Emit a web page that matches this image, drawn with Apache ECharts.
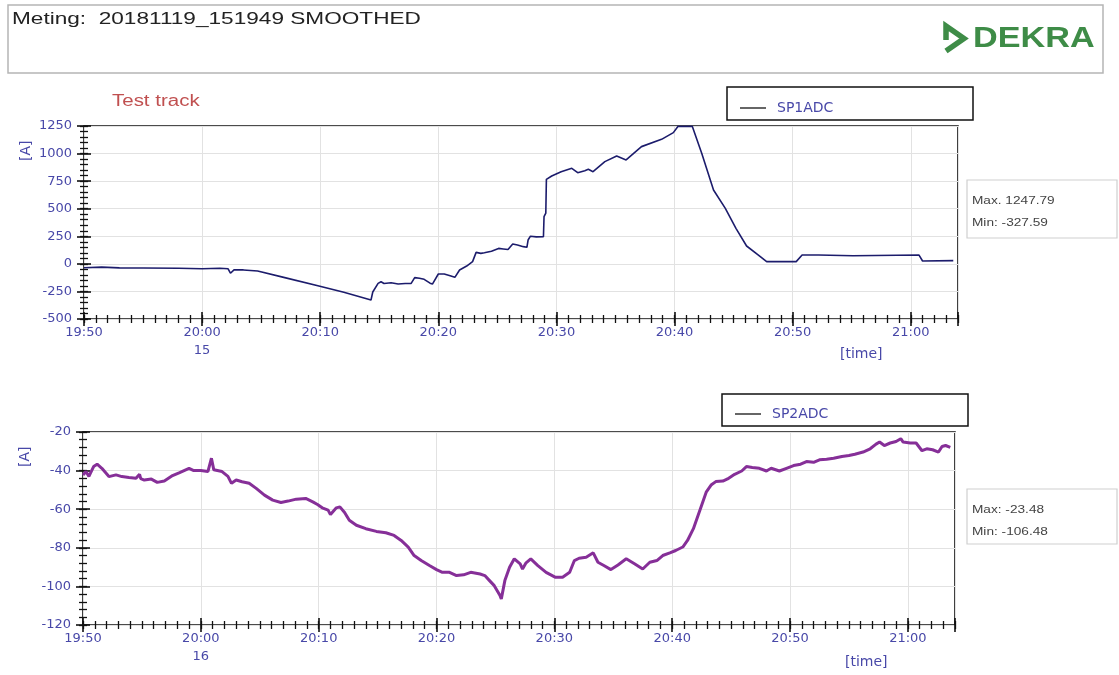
<!DOCTYPE html>
<html><head><meta charset="utf-8">
<script src="https://cdn.jsdelivr.net/npm/echarts/dist/echarts.min.js"></script>
<style>html,body{margin:0;padding:0;background:#fff}#c{width:1119px;height:675px}</style>
</head><body><div id="c"></div>
<script>
// time base: minutes after 19:50
const START_MIN = 19 * 60 + 50;
const X_END_MIN = 74;

// SP1ADC [A]
const sp1Minutes = [0, 1.5, 3, 5, 8, 10, 11.5, 12.2, 12.4, 12.7, 13.5, 14.7, 17, 19.8, 22, 24.3,
  24.45, 24.6, 24.9, 25.15, 25.4, 26.0, 26.6, 27.2, 27.7, 28.0, 28.4, 28.8, 29.3, 29.5, 30.0, 30.5,
  31.0, 31.4, 31.8, 32.4, 32.9, 33.2, 33.6, 33.9, 34.5, 35.1, 35.5, 35.9, 36.3, 36.7, 37.2, 37.5,
  37.6, 37.8, 38.3, 38.9, 38.95, 39.1, 39.15, 39.6, 40.4, 41.3, 41.8, 42.4, 42.7, 43.1, 44.1, 45.1,
  45.9, 47.2, 48.9, 49.9, 50.3, 51.5, 52.3, 53.3, 54.3, 55.2, 56.1, 57.1, 57.8, 60.3, 60.8, 62.2,
  65.1, 70.7, 71.0, 73.6];
const sp1Values = [-35, -30, -36, -38, -40, -45, -40, -45, -85, -55, -55, -65, -125, -198, -258, -327.59,
  -255, -240, -177, -162, -178, -172, -183, -178, -177, -125, -130, -140, -175, -183, -92, -92,
  -108, -122, -56, -20, 20, 104, 95, 100, 115, 140, 135, 130, 180, 171, 156, 150,
  216, 251, 245, 246, 428, 460, 766, 797, 836, 866, 827, 845, 857, 836, 927, 978,
  942, 1063, 1129, 1190, 1247.79, 1247, 1002, 670, 503, 322, 162, 80, 20, 20, 80, 80,
  74, 80, 26, 29];

// SP2ADC [A]
const sp2Minutes = [0, 0.25, 0.5, 0.9, 1.2, 1.6, 2.2, 2.8, 3.3, 3.9, 4.5, 4.8, 4.9, 5.2, 5.8, 6.3,
  6.9, 7.6, 8.2, 9.0, 9.4, 10.0, 10.6, 10.9, 11.1, 11.8, 12.3, 12.6, 13.0, 13.5, 14.1, 14.7,
  15.4, 16.1, 16.8, 17.4, 18.1, 18.9, 19.5, 19.9, 20.3, 20.8, 21.0, 21.5, 21.8, 22.2, 22.6, 23.2,
  24.0, 24.9, 25.7, 26.4, 27.0, 27.6, 28.1, 28.7, 29.4, 30.0, 30.5, 31.1, 31.7, 32.3, 32.9, 33.7,
  34.1, 34.5, 34.9, 35.4, 35.5, 35.8, 36.2, 36.6, 37.1, 37.3, 37.6, 38.0, 38.6, 39.3, 40.1, 40.7,
  41.3, 41.7, 42.1, 42.7, 43.3, 43.7, 44.2, 44.8, 45.4, 46.1, 46.8, 47.5, 48.1, 48.7, 49.2, 49.8,
  50.3, 50.9, 51.3, 51.8, 52.0, 52.5, 52.9, 53.3, 53.7, 54.3, 54.7, 55.3, 55.9, 56.3, 56.8, 57.4,
  58.0, 58.4, 59.1, 59.7, 60.3, 60.9, 61.4, 62.0, 62.5, 63.1, 63.7, 64.4, 65.0, 65.5, 66.2, 66.8,
  67.3, 67.6, 68.0, 68.5, 69.0, 69.4, 69.6, 70.2, 70.7, 71.2, 71.6, 72.1, 72.6, 72.9, 73.2, 73.6];
const sp2Values = [-42.3, -40.5, -43, -37.9, -36.7, -38.8, -43.1, -42.2, -43.1, -43.6, -44, -41.9, -44.2, -44.9, -44.4, -46.1,
  -45.4, -42.6, -41.0, -38.8, -40.0, -40.0, -40.5, -33.6, -39.6, -40.5, -43, -46.6, -44.9, -45.8, -46.6, -49.2,
  -52.7, -55.3, -56.5, -55.8, -54.8, -54.4, -56.2, -57.6, -59.3, -60.5, -62.8, -59.3, -58.8, -61.7, -65.7, -68.3,
  -70.1, -71.5, -72.2, -73.6, -76.2, -79.6, -84, -86.6, -89.2, -91.3, -92.7, -92.7, -94.4, -94.0, -92.7, -93.6,
  -94.4, -97, -99.6, -104.9, -106.48, -97, -90.1, -85.7, -88.3, -91, -87.8, -85.7, -89.2, -92.7, -95.3, -95.3,
  -92.7, -86.6, -85.4, -84.9, -82.6, -87.5, -89.2, -91.3, -88.9, -85.7, -88.3, -91, -87.5, -86.6, -84, -82.6,
  -81.4, -79.6, -76.2, -70.1, -66.6, -57.9, -51, -47.5, -45.7, -45.4, -44.3, -41.9, -40.2, -37.9, -38.4, -38.8,
  -40.2, -38.8, -40.2, -38.8, -37.4, -36.7, -35.3, -35.7, -34.4, -34.1, -33.6, -32.7, -32.2, -31.5, -30.4, -28.7,
  -26.3, -25.2, -27, -25.7, -24.9, -23.48, -25.2, -25.7, -25.7, -29.7, -28.7, -29.2, -30.4, -27.5, -27, -28];

const y1Range = [-500, 1250], y1Step = 250, y1Minor = 50;
const y2Range = [-120, -20], y2Step = 20, y2Minor = 4;
const dayTop = '15', dayBottom = '16';
const statsTop = ['Max. 1247.79', 'Min: -327.59'];
const statsBottom = ['Max: -23.48', 'Min: -106.48'];

const LBL = '#4848a8';
const AX = '#111';
const FONT = 'DejaVu Sans';

function clock(v, day) {
  const r = Math.round(v);
  if (Math.abs(v - r) > 1e-6 || r % 10 !== 0) return '';
  const h = Math.floor(r / 60), m = r % 60;
  let s = h + ':' + String(m).padStart(2, '0');
  if (r === 20 * 60) s += '\n' + day;
  return s;
}

function xAxes(grid, day) {
  const base = { gridIndex: grid, type: 'value', min: START_MIN, max: START_MIN + X_END_MIN, position: 'bottom' };
  return [
    Object.assign({}, base, {
      interval: 10, offset: -7,
      axisLine: { show: false, onZero: false },
      axisTick: { show: true, inside: false, length: 14, lineStyle: { color: AX, width: 1.6 } },
      splitLine: { show: true, lineStyle: { color: '#e2e2e2', width: 1 } },
      axisLabel: { show: true, margin: 12, color: LBL, fontFamily: FONT, fontSize: 13, lineHeight: 18,
        formatter: v => clock(v, day) }
    }),
    Object.assign({}, base, {
      interval: 1, offset: -4,
      axisLine: { show: false, onZero: false },
      axisTick: { show: true, inside: false, length: 8, lineStyle: { color: AX, width: 1.3 } },
      splitLine: { show: false }, axisLabel: { show: false }
    })
  ];
}
function yAxes(grid, range, step, minor) {
  const base = { gridIndex: grid, type: 'value', min: range[0], max: range[1], position: 'left' };
  return [
    Object.assign({}, base, {
      interval: step, offset: -7,
      axisLine: { show: false, onZero: false },
      axisTick: { show: true, inside: false, length: 14, lineStyle: { color: AX, width: 1.6 } },
      splitLine: { show: true, lineStyle: { color: '#e2e2e2', width: 1 } },
      axisLabel: { show: true, margin: 19, color: LBL, fontFamily: FONT, fontSize: 13, formatter: v => String(v) }
    }),
    Object.assign({}, base, {
      interval: minor, offset: -4,
      axisLine: { show: false, onZero: false },
      axisTick: { show: true, inside: false, length: 8, lineStyle: { color: AX, width: 1.3 } },
      splitLine: { show: false }, axisLabel: { show: false }
    })
  ];
}

function txt(x, y, text, opts) {
  return Object.assign({ type: 'text', x: x, y: y, style: Object.assign({ text: text, fontFamily: 'Liberation Sans', fontSize: 13, fill: '#333' }, opts.style || {}) }, opts.el || {});
}

const chart = echarts.init(document.getElementById('c'), null, { renderer: 'canvas' });
chart.setOption({
  animation: false,
  backgroundColor: '#fff',
  grid: [
    { left: 84, top: 126, width: 874, height: 193, show: true, borderColor: '#111', borderWidth: 1.6, backgroundColor: 'transparent' },
    { left: 83, top: 432, width: 872, height: 193, show: true, borderColor: '#111', borderWidth: 1.6, backgroundColor: 'transparent' }
  ],
  xAxis: xAxes(0, dayTop).concat(xAxes(1, dayBottom)),
  yAxis: yAxes(0, y1Range, y1Step, y1Minor).concat(yAxes(1, y2Range, y2Step, y2Minor)),
  legend: [
    { data: [{ name: 'SP1ADC', itemStyle: { color: '#333' } }], left: 735, top: 96, icon: 'rect', itemWidth: 26, itemHeight: 1.5,
      textStyle: { color: LBL, fontFamily: FONT, fontSize: 14, padding: [0, 0, 0, 6] }, selectedMode: false },
    { data: [{ name: 'SP2ADC', itemStyle: { color: '#333' } }], left: 730, top: 402, icon: 'rect', itemWidth: 26, itemHeight: 1.5,
      textStyle: { color: LBL, fontFamily: FONT, fontSize: 14, padding: [0, 0, 0, 6] }, selectedMode: false }
  ],
  series: [
    { name: 'SP1ADC', type: 'line', xAxisIndex: 0, yAxisIndex: 0, symbol: 'none',
      lineStyle: { color: '#1c1c6c', width: 1.6 }, itemStyle: { color: '#1c1c6c' },
      data: sp1Minutes.map((m, i) => [START_MIN + m, sp1Values[i]]) },
    { name: 'SP2ADC', type: 'line', xAxisIndex: 2, yAxisIndex: 2, symbol: 'none',
      lineStyle: { color: '#862f98', width: 3 }, itemStyle: { color: '#862f98' },
      data: sp2Minutes.map((m, i) => [START_MIN + m, sp2Values[i]]) }
  ],
  graphic: [
    { type: 'rect', shape: { x: 8, y: 5, width: 1095, height: 68 }, style: { fill: 'none', stroke: '#b5b5b5', lineWidth: 1.5 } },
    txt(12, 11, 'Meting:  20181119_151949 SMOOTHED', { style: { fontSize: 17, fill: '#222' }, el: { scaleX: 1.33 } }),
    { type: 'polyline', shape: { points: [[946, 40], [946, 26], [964, 38.5], [946, 51]] },
      style: { stroke: '#3e8c47', lineWidth: 5.5, fill: 'none', lineJoin: 'miter' } },
    txt(973, 24, 'DEKRA', { style: { fontSize: 29, fontWeight: 'bold', fill: '#3e8c47' }, el: { scaleX: 1.18 } }),
    txt(112, 94, 'Test track', { style: { fontSize: 16, fill: '#c05050' }, el: { scaleX: 1.28 } }),
    { type: 'rect', shape: { x: 727, y: 87, width: 246, height: 33 }, style: { fill: 'none', stroke: '#111', lineWidth: 1.5 } },
    { type: 'rect', shape: { x: 722, y: 394, width: 246, height: 32 }, style: { fill: 'none', stroke: '#111', lineWidth: 1.5 } },
    { type: 'rect', shape: { x: 967, y: 180, width: 150, height: 58 }, style: { fill: 'none', stroke: '#cfcfcf', lineWidth: 1.2 } },
    txt(972, 196, statsTop[0], { style: { fontSize: 10.5, fill: '#444' }, el: { scaleX: 1.3 } }),
    txt(972, 218, statsTop[1], { style: { fontSize: 10.5, fill: '#444' }, el: { scaleX: 1.3 } }),
    { type: 'rect', shape: { x: 967, y: 489, width: 150, height: 55 }, style: { fill: 'none', stroke: '#cfcfcf', lineWidth: 1.2 } },
    txt(972, 505, statsBottom[0], { style: { fontSize: 10.5, fill: '#444' }, el: { scaleX: 1.3 } }),
    txt(972, 527, statsBottom[1], { style: { fontSize: 10.5, fill: '#444' }, el: { scaleX: 1.3 } }),
    txt(840, 347, '[time]', { style: { fontSize: 14, fill: LBL, fontFamily: FONT } }),
    txt(845, 655, '[time]', { style: { fontSize: 14, fill: LBL, fontFamily: FONT } }),
    { type: 'text', x: 19, y: 161, rotation: Math.PI / 2, style: { text: '[A]', fontFamily: FONT, fontSize: 14, fill: LBL } },
    { type: 'text', x: 18, y: 467, rotation: Math.PI / 2, style: { text: '[A]', fontFamily: FONT, fontSize: 14, fill: LBL } }
  ]
});
</script>
</body></html>
